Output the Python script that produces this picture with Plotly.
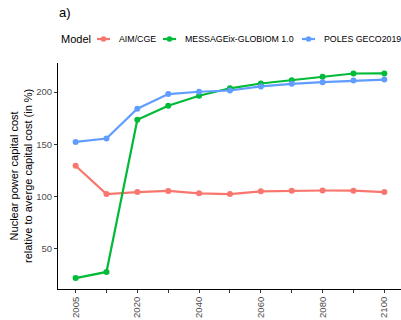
import plotly.graph_objects as go

years = ["2005", "2010", "2020", "2030", "2040", "2050", "2060", "2070", "2080", "2090", "2100"]
tick_labels = ["2005", "", "2020", "", "2040", "", "2060", "", "2080", "", "2100"]
models = ["AIM/CGE", "MESSAGEix-GLOBIOM 1.0", "POLES GECO2019"]
aim_cge = [129.3, 102.2, 104.1, 105.2, 102.9, 102.2, 104.8, 105.4, 105.6, 105.4, 104.1]
message = [21.6, 27.5, 173.5, 186.9, 196.5, 203.6, 208.2, 211.4, 214.6, 217.8, 217.9]
poles = [152.2, 155.4, 184.0, 198.1, 200.3, 201.5, 205.4, 207.9, 209.5, 211.1, 212.0]
colors = ["#F8766D", "#00BA38", "#619CFF"]

W, H = 401, 320
L, R, T, B = 58, 0, 63, 31
PW, PH = W - L - R, H - T - B


def px_x(px):
    return (px - L) / PW


def px_y(py):
    return 1 - (py - T) / PH


fig = go.Figure()
for name, vals, col in zip(models, [aim_cge, message, poles], colors):
    fig.add_trace(go.Scatter(
        x=list(range(len(years))), y=vals, name=name, mode="lines+markers",
        line=dict(color=col, width=2.2), marker=dict(color=col, size=6),
        showlegend=False,
    ))

fig.update_layout(
    width=W, height=H,
    margin=dict(l=L, r=R, t=T, b=B, autoexpand=False),
    paper_bgcolor="white", plot_bgcolor="white",
    font=dict(family="Liberation Sans, Arial, sans-serif", color="black"),
    showlegend=False,
)
fig.update_xaxes(
    range=[-0.57, 10.54], tickmode="array", tickvals=list(range(len(years))),
    ticktext=tick_labels, tickangle=-90, showgrid=False, zeroline=False,
    showline=True, linecolor="black", linewidth=1, automargin=False,
    ticks="outside", ticklen=3, tickcolor="#333333",
    tickfont=dict(size=9.5, color="#4D4D4D"),
)
fig.update_yaxes(
    range=[11.15, 227.85], tickvals=[50, 100, 150, 200], showgrid=False, zeroline=False,
    showline=True, linecolor="black", linewidth=1, automargin=False,
    ticks="outside", ticklen=3, tickcolor="#333333",
    tickfont=dict(size=9.5, color="#4D4D4D"),
)
fig.add_annotation(
    text="Nuclear power capital cost<br>relative to averge capital cost (in %)",
    xref="paper", yref="paper", x=0, y=0.5, xanchor="center", yanchor="middle",
    xshift=-37, textangle=-90, showarrow=False, font=dict(size=11, color="black"),
)
fig.add_annotation(
    text="a)", xref="paper", yref="paper", x=px_x(57), y=px_y(13), xanchor="left", yanchor="middle",
    showarrow=False, font=dict(size=13, color="black"),
)

# manual legend (ggplot-style compact keys)
leg_y = px_y(39)
fig.add_annotation(
    text="Model", xref="paper", yref="paper", x=px_x(59), y=leg_y, xanchor="left", yanchor="middle",
    showarrow=False, font=dict(size=11, color="black"),
)
key_x0 = [97, 163, 302]
for name, col, kx in zip(models, colors, key_x0):
    fig.add_shape(type="line", xref="paper", yref="paper",
                  x0=px_x(kx), x1=px_x(kx + 13), y0=leg_y, y1=leg_y,
                  line=dict(color=col, width=2.2))
    fig.add_shape(type="circle", xref="paper", yref="paper",
                  x0=px_x(kx + 6.5 - 2.8), x1=px_x(kx + 6.5 + 2.8),
                  y0=leg_y - 2.8 / PH, y1=leg_y + 2.8 / PH,
                  fillcolor=col, line=dict(color=col, width=0))
    fig.add_annotation(
        text=name, xref="paper", yref="paper", x=px_x(kx + 20), y=leg_y, xanchor="left", yanchor="middle",
        showarrow=False, font=dict(size=8.8, color="black"),
    )

fig.write_html("out.html", config={"displayModeBar": False},
               post_script="document.body.style.margin='0';document.body.style.padding='0';")
